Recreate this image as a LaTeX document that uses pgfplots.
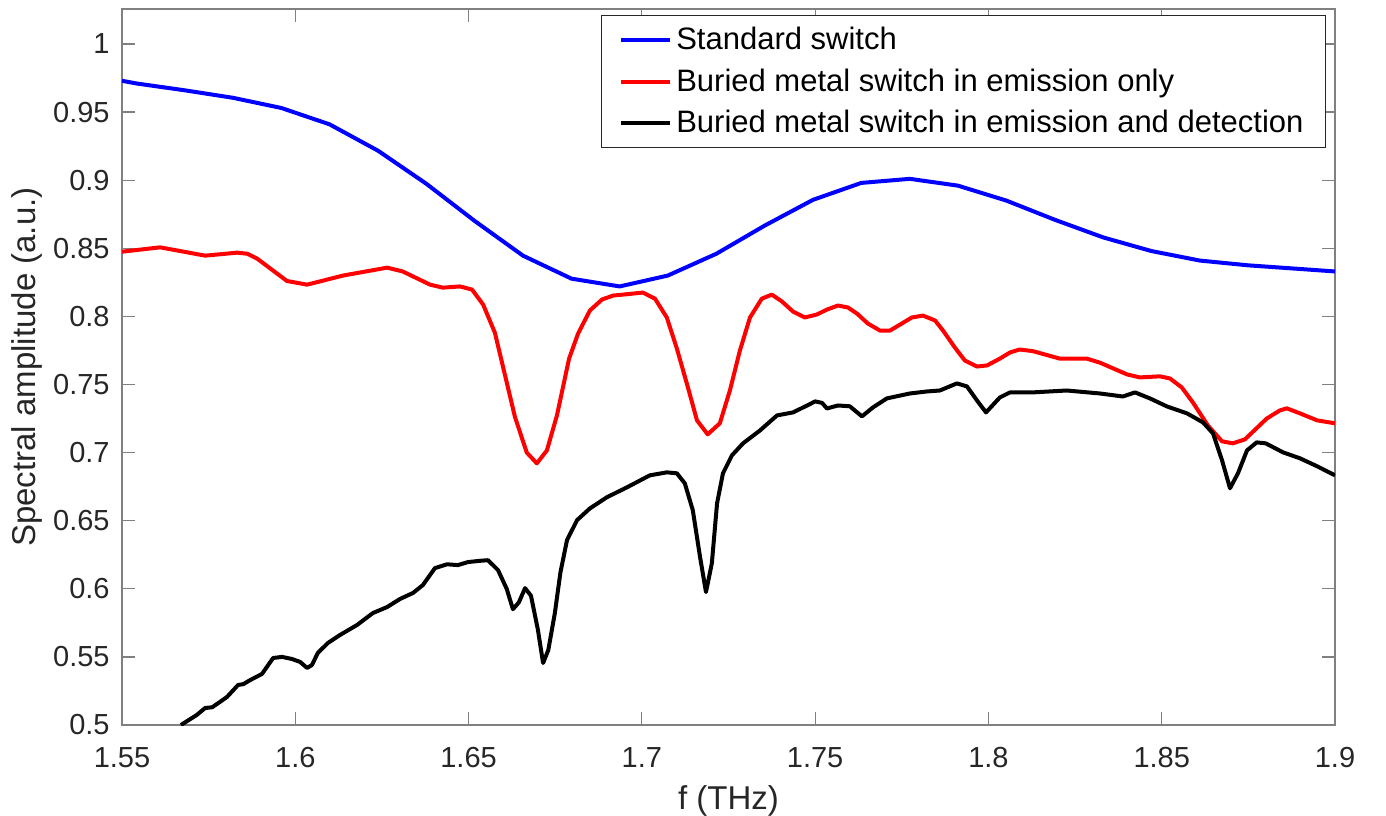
\documentclass[border=0pt]{standalone}
\usepackage{pgfplots}
\pgfplotsset{compat=1.18}
\usepackage{fontspec}
\setmainfont{Liberation Sans}

\definecolor{axgray}{RGB}{128,128,128}
\definecolor{txtgray}{RGB}{38,38,38}

\begin{document}
\begin{tikzpicture}
\begin{axis}[
    scale only axis,
    width=606.5pt, height=358pt,
    xmin=1.55, xmax=1.9,
    ymin=0.5, ymax=1.0257,
    xtick={1.55,1.6,...,1.91},
    ytick={0.5,0.55,...,1.01},
    xticklabels={1.55,1.6,1.65,1.7,1.75,1.8,1.85,1.9},
    yticklabels={0.5,0.55,0.6,0.65,0.7,0.75,0.8,0.85,0.9,0.95,1},
    tick align=inside,
    major tick length=6.5pt,
    axis line style={axgray, line width=0.6pt},
    every tick/.style={axgray, line width=0.6pt},
    tick label style={font=\fontsize{14.5}{17}\selectfont, text=txtgray},
    xticklabel style={inner sep=0pt, anchor=north, yshift=-11pt},
    yticklabel style={inner sep=0pt, anchor=east, xshift=-6pt},
    /pgf/number format/assume math mode=true,
    xlabel={f (THz)},
    ylabel={Spectral amplitude (a.u.)},
    label style={font=\fontsize{16.5}{19}\selectfont, text=txtgray},
    xlabel style={at={(axis description cs:0.5,0)}, anchor=north, inner sep=0pt, yshift=-30pt},
    ylabel style={at={(axis description cs:0,0.5)}, anchor=center, inner sep=0pt, yshift=47.5pt},
    legend style={
        at={(1,1)}, anchor=north east, xshift=-4.5pt, yshift=-3pt,
        draw=txtgray, line width=0.5pt,
        font=\fontsize{15.5}{18}\selectfont,
        inner xsep=9pt, inner ysep=4pt,
        row sep=4pt,
        cells={anchor=west},
    },
    legend image code/.code={\draw[#1, line width=2pt] (0pt,0pt) -- (24.5pt,0pt);},
    every axis plot/.append style={line width=2pt, line join=round},
]
\addplot[blue] coordinates {
(1.55,0.973) (1.5542,0.971) (1.5681,0.966) (1.5820,0.9605) (1.5960,0.953)
(1.6099,0.941) (1.6239,0.9216) (1.6378,0.8974) (1.6518,0.870) (1.6657,0.8446)
(1.6797,0.8277) (1.6936,0.822) (1.7075,0.830) (1.7215,0.846) (1.7354,0.8666)
(1.7494,0.8856) (1.7633,0.898) (1.7773,0.901) (1.7912,0.896) (1.8052,0.885)
(1.8191,0.871) (1.8331,0.858) (1.8470,0.848) (1.8610,0.841) (1.8749,0.8375)
(1.8889,0.835) (1.9,0.833)
};
\addlegendentry{Standard switch}
\addplot[red] coordinates {
(1.55,0.8475) (1.561,0.8507) (1.574,0.8446) (1.5832,0.8468) (1.5862,0.8460)
(1.589,0.8424) (1.5976,0.826) (1.6034,0.8233) (1.6138,0.830) (1.6265,0.8358)
(1.631,0.833) (1.6389,0.8233) (1.6426,0.8211) (1.6475,0.822) (1.651,0.8197)
(1.6542,0.8087) (1.6576,0.788) (1.6634,0.726) (1.6668,0.700) (1.6697,0.6921)
(1.6726,0.7016) (1.6755,0.7273) (1.6790,0.7690) (1.6816,0.7874) (1.685,0.8043)
(1.6885,0.8124) (1.6917,0.8153) (1.6946,0.816) (1.7003,0.8175) (1.7038,0.813)
(1.7072,0.7992) (1.7101,0.7764) (1.7133,0.7478) (1.7159,0.7237) (1.719,0.7134)
(1.7225,0.7215) (1.7254,0.7456) (1.7283,0.775) (1.7312,0.7992) (1.7346,0.813)
(1.7375,0.816) (1.7404,0.811) (1.7436,0.8036) (1.747,0.7992) (1.7505,0.8014)
(1.7534,0.805) (1.7566,0.808) (1.7595,0.8065) (1.7621,0.802) (1.7652,0.7948)
(1.7687,0.7896) (1.7716,0.7896) (1.7745,0.794) (1.7779,0.7992) (1.7811,0.8006)
(1.7846,0.797) (1.7869,0.7896) (1.7903,0.7772) (1.7932,0.7676) (1.7967,0.7632)
(1.7996,0.764) (1.8033,0.769) (1.8062,0.7735) (1.809,0.7757) (1.8128,0.7745)
(1.8206,0.769) (1.8284,0.769) (1.8322,0.766) (1.84,0.7574) (1.8437,0.7552)
(1.8495,0.756) (1.8524,0.7544) (1.8558,0.7478) (1.859,0.7368) (1.8633,0.72)
(1.8674,0.7083) (1.8705,0.7068) (1.874,0.7097) (1.8803,0.725) (1.8841,0.731)
(1.8861,0.7325) (1.8899,0.7288) (1.8948,0.7237) (1.9,0.7215)
};
\addlegendentry{Buried metal switch in emission only}
\addplot[black] coordinates {
(1.567,0.500) (1.5716,0.5074) (1.574,0.5125) (1.5760,0.5130) (1.5783,0.517)
(1.5803,0.5206) (1.5835,0.5294) (1.5850,0.5300) (1.587,0.533) (1.5904,0.5375)
(1.5936,0.5492) (1.5962,0.5500) (1.599,0.5485) (1.6014,0.5463) (1.6034,0.5419)
(1.6048,0.5440) (1.6065,0.5529) (1.6094,0.5602) (1.6129,0.5661) (1.6178,0.5734)
(1.6224,0.5822) (1.6265,0.5866) (1.6302,0.5925) (1.634,0.597) (1.6368,0.6027)
(1.6403,0.6152) (1.6438,0.618) (1.6469,0.6174) (1.6498,0.6196) (1.6530,0.6205)
(1.6556,0.621) (1.6585,0.6137) (1.6610,0.600) (1.6628,0.585) (1.6645,0.590)
(1.6663,0.6005) (1.6680,0.595) (1.6700,0.570) (1.6715,0.5455) (1.6730,0.555)
(1.6749,0.5822) (1.6765,0.612) (1.6784,0.6357) (1.6813,0.6504) (1.685,0.659)
(1.6899,0.6672) (1.6957,0.6745) (1.7023,0.6833) (1.7072,0.6855) (1.7101,0.6848)
(1.7124,0.6774) (1.7147,0.6577) (1.7168,0.6232) (1.7185,0.5976) (1.7202,0.6188)
(1.7217,0.6628) (1.7234,0.6848) (1.726,0.698) (1.7292,0.7068) (1.7341,0.7163)
(1.739,0.7273) (1.7436,0.7295) (1.7477,0.7346) (1.75,0.7376) (1.7520,0.7365)
(1.7534,0.7324) (1.7566,0.7346) (1.7600,0.7340) (1.7635,0.7266) (1.7667,0.7332)
(1.7707,0.7398) (1.7773,0.7434) (1.7823,0.7449) (1.786,0.7456) (1.7909,0.7508)
(1.7938,0.7486) (1.7967,0.7383) (1.7993,0.7295) (1.8033,0.7405) (1.8062,0.7442)
(1.8128,0.7442) (1.8226,0.7456) (1.8322,0.7434) (1.8388,0.7412) (1.8423,0.7442)
(1.8466,0.7398) (1.8515,0.7339) (1.8573,0.7288) (1.8619,0.7222) (1.8648,0.7141)
(1.8674,0.6944) (1.8697,0.6738) (1.872,0.6848) (1.8746,0.7016) (1.8774,0.7075)
(1.8800,0.7068) (1.885,0.7002) (1.8899,0.6958) (1.8948,0.69) (1.9,0.6833)
};
\addlegendentry{Buried metal switch in emission and detection}
\end{axis}
\pgfresetboundingbox
\path[use as bounding box] ([xshift=-61pt,yshift=-45pt]current axis.south west) rectangle ([xshift=25.5pt,yshift=4.5pt]current axis.north east);
\end{tikzpicture}
\end{document}
